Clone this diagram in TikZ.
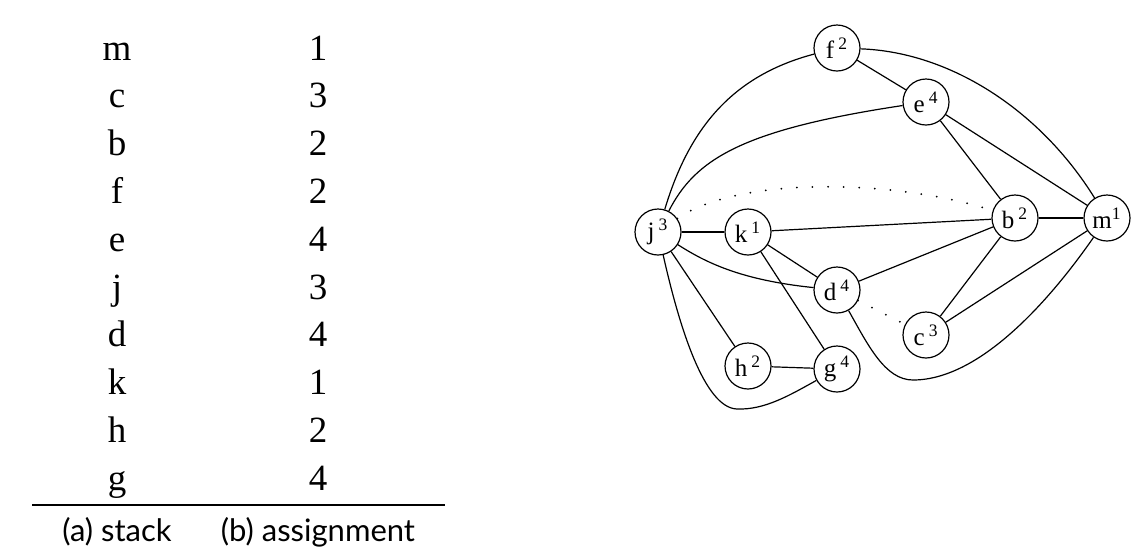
\documentclass[tikz,border=0pt]{standalone}
\usepackage{fontspec}
\setmainfont{Liberation Serif}
\newfontfamily\capfont{Lato}
\begin{document}
\begin{tikzpicture}[x=0.5pt,y=-0.5pt,
  vtx/.style={circle,draw,line width=0.6pt,minimum size=23pt,inner sep=0pt,font=\fontsize{12.5}{14}\selectfont},
  edge/.style={line width=0.6pt},
  dotline/.style={line width=1pt,line cap=round,dash pattern=on 0pt off 7.8pt},
  tab/.style={anchor=base,inner sep=0pt,font=\fontsize{18.5}{20}\selectfont},
  captext/.style={anchor=base,inner sep=0pt,font=\capfont\fontsize{15.5}{18}\selectfont}]
\useasboundingbox (0,0) rectangle (1146,559);
% table
\foreach \l/\n [count=\i from 0] in {m/1,c/3,b/2,f/2,e/4,j/3,d/4,k/1,h/2,g/4}{
  \node[tab] (s\i) at (117,60+47.8*\i) {\l};
  \node[tab] (a\i) at (318,60+47.8*\i) {\n};
}
\coordinate (rl) at (32,505);
\coordinate (rr) at (445,505);
\draw[line width=0.6pt] (rl) -- (rr);
\node[captext] (capa) at (117,541) {(a) stack};
\node[captext] (capb) at (318,541) {(b) assignment};
% graph
\node[vtx] (f) at (837,48) {f\,\textsuperscript{2}};
\node[vtx] (e) at (926,102) {e\,\textsuperscript{4}};
\node[vtx] (j) at (658,232) {j\,\textsuperscript{3}};
\node[vtx] (k) at (748,232) {k\,\textsuperscript{1}};
\node[vtx] (b) at (1015,218) {b\,\textsuperscript{2}};
\node[vtx] (m) at (1107,218) {m\textsuperscript{1}};
\node[vtx] (d) at (837,290) {d\,\textsuperscript{4}};
\node[vtx] (c) at (926,335) {c\,\textsuperscript{3}};
\node[vtx] (h) at (748,366) {h\,\textsuperscript{2}};
\node[vtx] (g) at (837,369) {g\,\textsuperscript{4}};
\draw[edge] (j) .. controls (690,125) and (735,75) .. (f);
\draw[edge] (j) .. controls (695,160) and (740,130) .. (e);
\draw[edge] (j) -- (k);
\draw[edge] (j) .. controls (705,262) and (740,280) .. (d);
\draw[edge] (j) -- (h);
\draw[edge] (j) .. controls (680,330) and (705,408) .. (737,409) .. controls (765,410) and (790,395) .. (g);
\draw[dotline] (j) .. controls (740,175) and (900,180) .. (b);
\draw[edge] (f) -- (e);
\draw[edge] (f) .. controls (950,52) and (1040,110) .. (m);
\draw[edge] (e) -- (b);
\draw[edge] (e) -- (m);
\draw[edge] (k) -- (b);
\draw[edge] (k) -- (d);
\draw[edge] (k) -- (g);
\draw[edge] (b) -- (m);
\draw[edge] (b) -- (d);
\draw[edge] (b) -- (c);
\draw[edge] (m) -- (c);
\draw[edge] (m) .. controls (1050,300) and (980,380) .. (913,380) .. controls (885,380) and (868,345) .. (d);
\draw[dotline] (d) -- (c);
\draw[edge] (h) -- (g);
\end{tikzpicture}
\end{document}
